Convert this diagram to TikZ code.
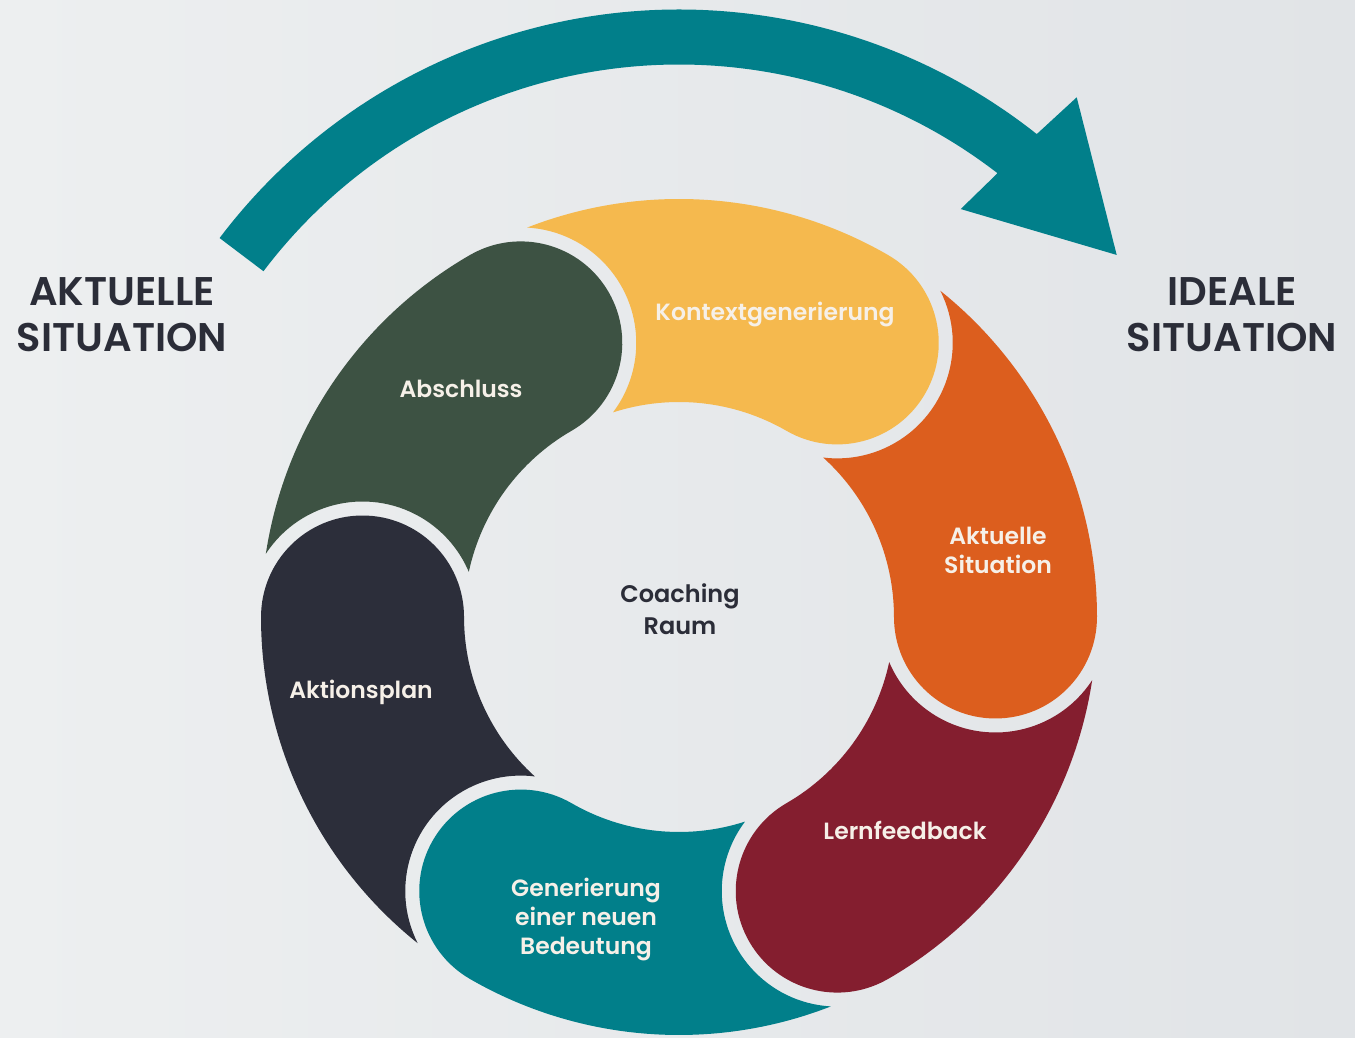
\documentclass[tikz,border=0pt]{standalone}
\usepackage{fontspec}
\setmainfont{Poppins}[BoldFont={Poppins SemiBold}]
\definecolor{bgl}{HTML}{EDEFF0}
\definecolor{bgr}{HTML}{E1E4E7}
\definecolor{cteal}{HTML}{017F8A}
\definecolor{cyellow}{HTML}{F5B94E}
\definecolor{corange}{HTML}{DC5E1E}
\definecolor{cmaroon}{HTML}{841E2F}
\definecolor{cnavy}{HTML}{2C2E3A}
\definecolor{cgreen}{HTML}{3D5243}
\definecolor{cdark}{HTML}{2B2D38}
\definecolor{clight}{HTML}{F6F0E8}
\newcommand{\ringseg}[2]{%
  \fill[#2] (#1:418pt)
    arc[start angle=#1, end angle=#1+51.309, radius=418pt]
    arc[start angle=#1+26.84, end angle=#1-96.98, radius=115.5pt]
    arc[start angle=#1+47.871, end angle=#1, radius=215pt]
    arc[start angle=#1+180, end angle=#1+360, radius=101.5pt] -- cycle;}
\begin{document}
\begin{tikzpicture}[x=1pt,y=1pt,
  bigtxt/.style={font=\fontsize{40}{46}\selectfont\bfseries, text=cdark, align=center, inner sep=0pt},
  segtxt/.style={font=\fontsize{23.5}{29}\selectfont\bfseries, text=clight, align=center, inner sep=0pt},
  midtxt/.style={font=\fontsize{24}{32}\selectfont\bfseries, text=cdark, align=center, inner sep=0pt}]
\useasboundingbox (0,0) rectangle (1355,1038);
\fill[left color=bgl, right color=bgr] (0,0) rectangle (1355,1038);
% big arrow
\begin{scope}[shift={(679,452.5)}]
  \fill[cteal] (142.9:576pt) arc[start angle=142.9, end angle=51.6, radius=576pt]
    -- (50.83:629.7pt) -- (37.06:548.5pt) -- (53.19:470.2pt) -- (52.31:521pt)
    arc[start angle=52.31, end angle=142.9, radius=521pt] -- cycle;
\end{scope}
% ring
\begin{scope}[shift={(679,421)}]
  \ringseg{60}{cyellow}
  \ringseg{0}{corange}
  \ringseg{-60}{cmaroon}
  \ringseg{-120}{cteal}
  \ringseg{180}{cnavy}
  \ringseg{120}{cgreen}
\end{scope}
% labels
\node[bigtxt] (akt) at (122,723) {AKTUELLE\\SITUATION};
\node[bigtxt] (ide) at (1232,723) {IDEALE\\SITUATION};
\node[segtxt] (kon) at (775,723) {Kontextgenerierung};
\node[segtxt] (abs) at (461,649) {Abschluss};
\node[segtxt] (aks) at (998,488) {Aktuelle\\Situation};
\node[segtxt] (akp) at (361,346) {Aktionsplan};
\node[segtxt] (ler) at (905,208) {Lernfeedback};
\node[segtxt] (gen) at (586,118) {Generierung\\einer neuen\\Bedeutung};
\node[midtxt] (coa) at (680,429) {Coaching\\Raum};
\end{tikzpicture}
\end{document}
